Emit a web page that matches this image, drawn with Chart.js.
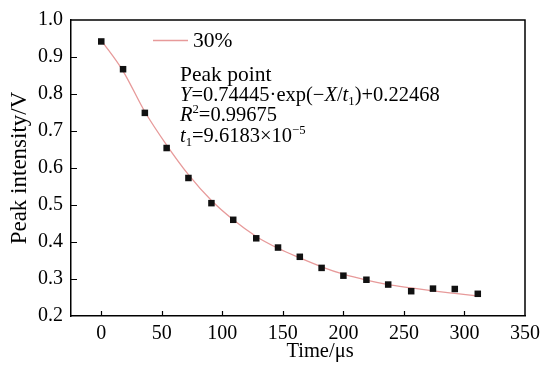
<!DOCTYPE html>
<html>
<head>
<meta charset="utf-8">
<script src="https://cdn.jsdelivr.net/npm/chart.js@4"></script>
<style>
  body { margin: 0; background: #fff; }
  #wrap { width: 550px; height: 365px; }
</style>
</head>
<body>
<div id="wrap"><canvas id="peak" width="550" height="365"></canvas></div>
<script>
//data

//measured peak points
const timeUs = [0, 18, 36, 54, 72, 91, 109, 128, 146, 164, 182, 200, 219, 237, 256, 274, 292, 311];
const peakV = [0.942, 0.867, 0.749, 0.654, 0.573, 0.505, 0.460, 0.410, 0.385, 0.360, 0.330, 0.309, 0.298, 0.285, 0.267, 0.274, 0.273, 0.260];

//the pink fitted curve, read at the same times
const fitTime = [0, 18, 36, 54, 72, 91, 109, 128, 146, 164, 182, 200, 219, 237, 256, 274, 292, 311];
const fitV = [0.945, 0.862, 0.752, 0.662, 0.582, 0.512, 0.460, 0.415, 0.383, 0.357, 0.333, 0.313, 0.297, 0.285, 0.276, 0.268, 0.261, 0.254];

//tick labels
const xTicks = [0, 50, 100, 150, 200, 250, 300, 350];
const yTicks = [0.2, 0.3, 0.4, 0.5, 0.6, 0.7, 0.8, 0.9, 1.0];

const serif = "'Liberation Serif', 'Times New Roman', serif";
const fitColor = '#e79a9a';

//draws a row of text pieces, some italic, some raised or lowered
function drawRuns(ctx, x, y, runs, size){
	for(let i = 0; i < runs.length; i++){
		const text = runs[i][0];
		const kind = runs[i][1];
		let fs = size;
		let dy = 0;
		let style = '';
		if(kind == 'i') style = 'italic ';
		if(kind == 'sup'){ fs = size * 0.62; dy = -size * 0.38; }
		if(kind == 'sub'){ fs = size * 0.62; dy = size * 0.22; }
		ctx.font = style + fs + 'px ' + serif;
		ctx.fillText(text, x, y + dy);
		x += ctx.measureText(text).width;
	}
}

//frame, inward ticks, axis titles, legend and the fit text
const extras = {
	id: 'extras',
	afterDraw(chart){
		const ctx = chart.ctx;
		const a = chart.chartArea;
		const xs = chart.scales.x;
		const ys = chart.scales.y;
		ctx.save();

		//top and right side of the box
		ctx.strokeStyle = '#000';
		ctx.lineWidth = 1.5;
		ctx.beginPath();
		ctx.moveTo(a.left, a.top);
		ctx.lineTo(a.right, a.top);
		ctx.lineTo(a.right, a.bottom);
		ctx.stroke();

		//tick marks pointing into the plot
		ctx.lineWidth = 1.2;
		ctx.beginPath();
		xTicks.forEach(function(v){
			const px = Math.round(xs.getPixelForValue(v)) + 0.5;
			if(px > a.right - 2) return;
			ctx.moveTo(px, a.bottom);
			ctx.lineTo(px, a.bottom - 5);
		});
		yTicks.forEach(function(v){
			const py = Math.round(ys.getPixelForValue(v)) + 0.5;
			if(py < a.top + 2 || py > a.bottom - 2) return;
			ctx.moveTo(a.left, py);
			ctx.lineTo(a.left + 6, py);
		});
		ctx.stroke();

		//axis titles
		ctx.fillStyle = '#000';
		ctx.font = '20.5px ' + serif;
		ctx.textAlign = 'center';
		ctx.textBaseline = 'middle';
		ctx.fillText('Time/μs', 320, 352);
		ctx.save();
		ctx.translate(20, (a.top + a.bottom) / 2);
		ctx.rotate(-Math.PI / 2);
		ctx.font = '23px ' + serif;
		ctx.fillText('Peak intensity/V', 0, 0);
		ctx.restore();

		//legend
		ctx.strokeStyle = fitColor;
		ctx.lineWidth = 1.5;
		ctx.beginPath();
		ctx.moveTo(153, 40.5);
		ctx.lineTo(188, 40.5);
		ctx.stroke();
		ctx.textAlign = 'left';
		ctx.font = '21.5px ' + serif;
		ctx.fillText('30%', 193, 41);

		//fit result
		ctx.textBaseline = 'alphabetic';
		const fs = 20.5;
		drawRuns(ctx, 180, 80.5, [['Peak point', 'n']], 21.5);
		drawRuns(ctx, 180, 100.5, [['Y', 'i'], ['=0.74445·exp(−', 'n'], ['X', 'i'], ['/', 'n'], ['t', 'i'], ['1', 'sub'], [')+0.22468', 'n']], fs);
		drawRuns(ctx, 180, 121, [['R', 'i'], ['2', 'sup'], ['=0.99675', 'n']], fs);
		drawRuns(ctx, 180, 141.5, [['t', 'i'], ['1', 'sub'], ['=9.6183×10', 'n'], ['−5', 'sup']], fs);

		ctx.restore();
	}
};

let ctx1 = document.getElementById('peak');

const peakChart = new Chart(ctx1, {
	type: 'scatter',
	data:{
		datasets:[{
			label: 'Peak point',
			data: timeUs.map(function(t, i){ return {x: t, y: peakV[i]}; }),
			pointStyle: 'rect',
			pointRadius: 4.6,
			backgroundColor: '#111',
			borderColor: '#111',
			borderWidth: 0,
			showLine: false,
			order: 0
		},{
			label: '30%',
			data: fitTime.map(function(t, i){ return {x: t, y: fitV[i]}; }),
			showLine: true,
			pointRadius: 0,
			borderColor: fitColor,
			borderWidth: 1.3,
			cubicInterpolationMode: 'monotone',
			order: 1
		}]
	},
	options:{
		responsive: false,
		animation: false,
		devicePixelRatio: 1,
		layout:{
			padding:{ top: 15, right: 25, left: 0, bottom: 0 }
		},
		plugins:{
			legend:{ display: false },
			tooltip:{ enabled: false }
		},
		scales:{
			x:{
				type: 'linear',
				min: -25,
				max: 350,
				afterBuildTicks: function(scale){
					scale.ticks = xTicks.map(function(v){ return {value: v}; });
				},
				afterFit: function(scale){ scale.height = 49; },
				grid:{ display: false, drawTicks: false, tickLength: 0 },
				border:{ display: true, color: '#000', width: 1.5 },
				ticks:{
					color: '#000',
					padding: 6,
					maxRotation: 0,
					font:{ family: serif, size: 20 }
				}
			},
			y:{
				type: 'linear',
				min: 0.2,
				max: 1.0,
				afterBuildTicks: function(scale){
					scale.ticks = yTicks.map(function(v){ return {value: v}; });
				},
				afterFit: function(scale){ scale.width = 71; },
				grid:{ display: false, drawTicks: false, tickLength: 0 },
				border:{ display: true, color: '#000', width: 1.5 },
				ticks:{
					color: '#000',
					padding: 8,
					font:{ family: serif, size: 20 },
					callback: function(v){ return Number(v).toFixed(1); }
				}
			}
		}
	},
	plugins: [extras]
});
</script>
</body>
</html>
